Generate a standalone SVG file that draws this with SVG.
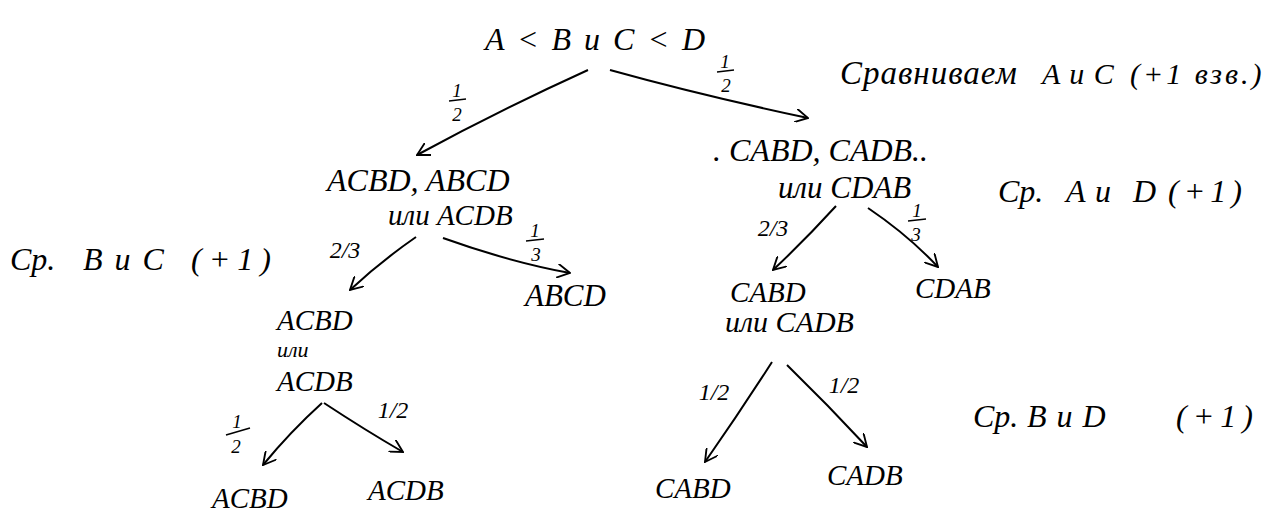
<svg xmlns="http://www.w3.org/2000/svg" width="1267" height="514" viewBox="0 0 1267 514">
  <defs>
    <marker id="open" viewBox="0 0 12 12" refX="11" refY="6" markerWidth="14" markerHeight="14" markerUnits="userSpaceOnUse" orient="auto">
      <path d="M0,0 L11,6 L0,12" fill="none" stroke="#000" stroke-width="1.6"/>
    </marker>
    <style>
      text { font-family: "Liberation Serif", "DejaVu Serif", serif; font-style: italic; fill: #000; }
      .n { font-size: 29px; }
      .b { font-size: 32px; }
      .s { font-size: 22px; }
      .f { font-size: 19px; text-anchor: middle; }
      .sl { font-size: 24px; text-anchor: middle; }
      .bar { stroke: #000; stroke-width: 1.6; }
      .edge { fill: none; stroke: #000; stroke-width: 2; marker-end: url(#open); }
    </style>
  </defs>
  <rect width="1267" height="514" fill="#fff"/>

  <!-- connectors -->
  <g id="connectors">
    <path class="edge" d="M588,70 Q500,110 417,155"/>
    <path class="edge" d="M610,70 Q700,95 808,118"/>
    <path class="edge" d="M416,237 Q380,262 350,290"/>
    <path class="edge" d="M443,238 Q510,262 570,273"/>
    <path class="edge" d="M836,206 Q805,240 773,270"/>
    <path class="edge" d="M868,208 Q908,235 938,267"/>
    <path class="edge" d="M322,403 Q290,432 263,465"/>
    <path class="edge" d="M324,403 Q365,430 403,452"/>
    <path class="edge" d="M772,362 Q740,412 705,462"/>
    <path class="edge" d="M787,365 Q828,405 867,447"/>
  </g>

  <!-- edge labels -->
  <g id="edge-labels">
    <text class="f" x="457" y="97">1</text><line class="bar" x1="449" y1="101" x2="466" y2="99"/><text class="f" x="457" y="121">2</text>
    <text class="f" x="725" y="68">1</text><line class="bar" x1="717" y1="72" x2="734" y2="70"/><text class="f" x="726" y="92">2</text>
    <text class="sl" x="345" y="258">2/3</text>
    <text class="f" x="535" y="237">1</text><line class="bar" x1="526" y1="241" x2="544" y2="239"/><text class="f" x="536" y="261">3</text>
    <text class="sl" x="773" y="236">2/3</text>
    <text class="f" x="917" y="217">1</text><line class="bar" x1="908" y1="221" x2="926" y2="219"/><text class="f" x="916" y="241">3</text>
    <text class="f" x="237" y="428">1</text><line class="bar" x1="226" y1="435" x2="250" y2="428"/><text class="f" x="236" y="453">2</text>
    <text class="sl" x="393" y="418">1/2</text>
    <text class="sl" x="714" y="400">1/2</text>
    <text class="sl" x="844" y="393">1/2</text>
  </g>

  <!-- nodes -->
  <g id="root"><text class="b" x="485" y="50" word-spacing="5">A &lt; B и C &lt; D</text></g>
  <g id="note-ac"><text y="84"><tspan x="840" font-size="33" letter-spacing="1">Сравниваем</tspan><tspan x="1042" font-size="30" word-spacing="2">A и C</tspan><tspan x="1130" font-size="30" letter-spacing="3">(+1 взв.)</tspan></text></g>
  <g id="left-1"><text class="b" x="327" y="191">ACBD, ABCD</text><text class="n" x="388" y="225">или ACDB</text></g>
  <g id="right-1"><text class="b" x="713" y="161">. CABD, CADB..</text><text font-size="31" x="778" y="198">или CDAB</text></g>
  <g id="note-ad"><text class="b" y="202"><tspan x="998">Ср.</tspan><tspan x="1066">A</tspan><tspan x="1095">и</tspan><tspan x="1133">D</tspan><tspan x="1168" letter-spacing="5">(+1)</tspan></text></g>
  <g id="note-bc"><text class="b" y="270"><tspan x="10">Ср.</tspan><tspan x="83" word-spacing="4">B и C</tspan><tspan x="191" letter-spacing="7">(+1)</tspan></text></g>
  <g id="abcd"><text font-size="31" x="525" y="306">ABCD</text></g>
  <g id="left-2"><text class="n" x="277" y="330">ACBD</text><text class="s" x="277" y="357">или</text><text class="n" x="277" y="391">ACDB</text></g>
  <g id="right-2"><text class="n" x="730" y="302">CABD</text><text font-size="30" x="725" y="332">или CADB</text></g>
  <g id="cdab"><text class="n" x="915" y="298">CDAB</text></g>
  <g id="acbd-leaf"><text class="n" x="212" y="508">ACBD</text></g>
  <g id="acdb-leaf"><text class="n" x="368" y="500">ACDB</text></g>
  <g id="cabd-leaf"><text class="n" x="655" y="498">CABD</text></g>
  <g id="cadb-leaf"><text class="n" x="827" y="485">CADB</text></g>
  <g id="note-bd"><text class="b" y="427"><tspan x="973">Ср.</tspan><tspan x="1027" word-spacing="2">B и D</tspan><tspan x="1176" letter-spacing="6">(+1)</tspan></text></g>
</svg>
